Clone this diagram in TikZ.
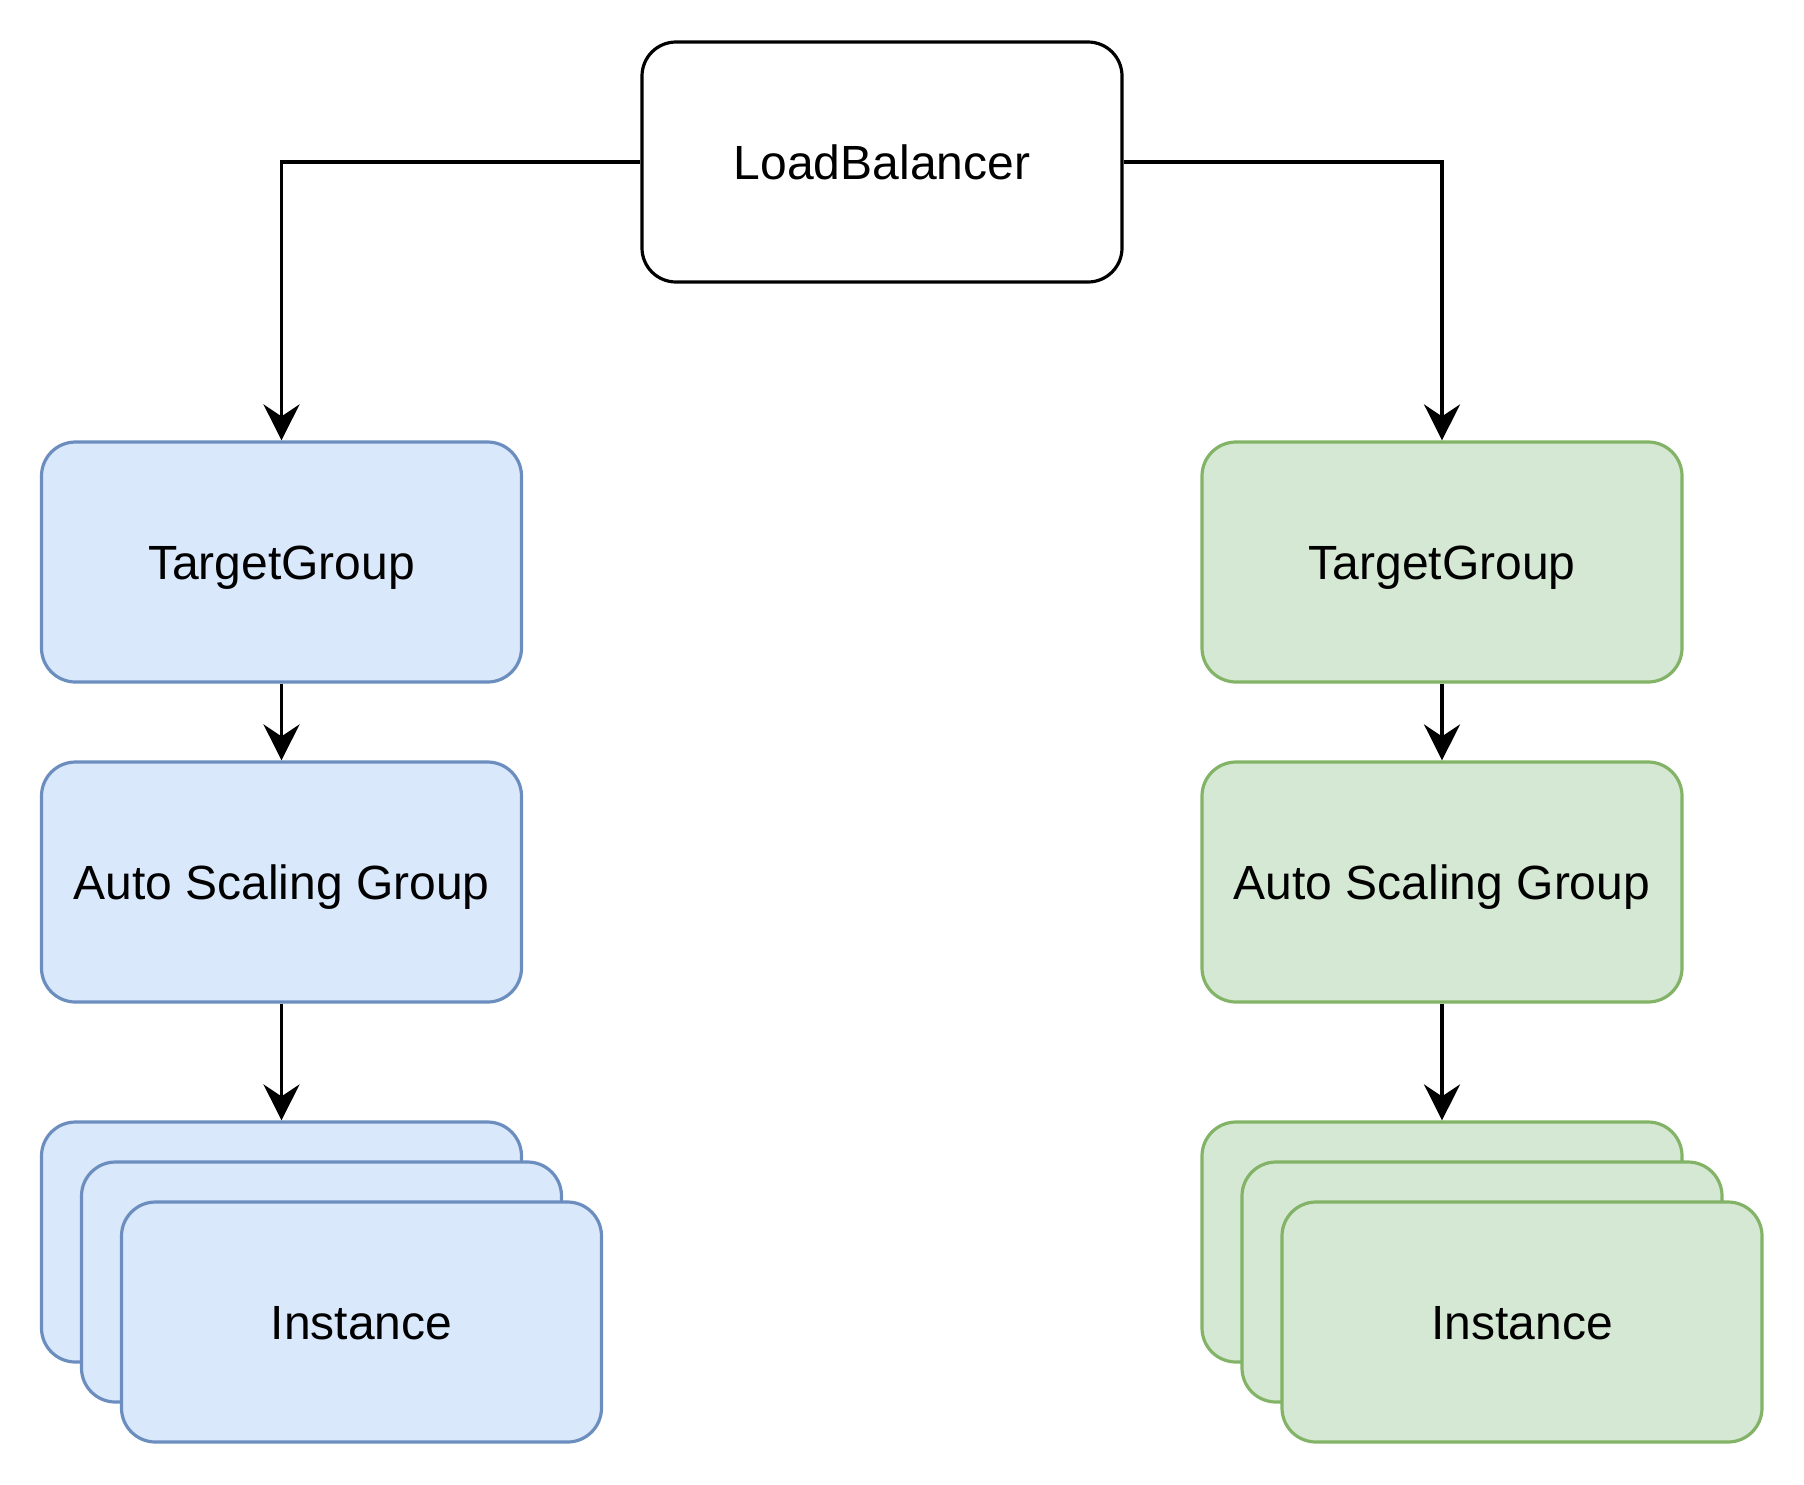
\documentclass[tikz,border=0pt]{standalone}
\usepackage{fontspec}
\setmainfont{Liberation Sans}
\usetikzlibrary{arrows.meta}
\definecolor{bluefill}{HTML}{DAE8FC}
\definecolor{blueline}{HTML}{6C8EBF}
\definecolor{greenfill}{HTML}{D5E8D4}
\definecolor{greenline}{HTML}{82B366}
\begin{document}
\begin{tikzpicture}[x=0.5pt,y=-0.5pt,
  every node/.style={draw,rounded corners=17pt,minimum width=240pt,minimum height=120pt,
    inner sep=0pt,line width=1.6pt,text height=17.2pt,text depth=0pt,
    font=\fontsize{24}{29}\selectfont},
  bluebox/.style={fill=bluefill,draw=blueline},
  greenbox/.style={fill=greenfill,draw=greenline},
  link/.style={-{Stealth[length=18pt,width=18pt,inset=6pt]},line width=1.6pt}
  ]
    \useasboundingbox (0,0) rectangle (1804,1484);

    \node (lb) at (882,162) {LoadBalancer};

    % left side
    \node[bluebox] (tgl) at (281.5,562) {TargetGroup};
    \node[bluebox] (asgl) at (281.5,882) {Auto Scaling Group};
    \node[bluebox] (instl1) at (281.5,1242) {};
    \node[bluebox] (instl2) at (321.5,1282) {};
    \node[bluebox] (instl3) at (361.5,1322) {Instance};

    % right side
    \node[greenbox] (tgr) at (1442,562) {TargetGroup};
    \node[greenbox] (asgr) at (1442,882) {Auto Scaling Group};
    \node[greenbox] (instr1) at (1442,1242) {};
    \node[greenbox] (instr2) at (1482,1282) {};
    \node[greenbox] (instr3) at (1522,1322) {Instance};

    \draw[link] (lb) -| (tgl);
    \draw[link] (lb) -| (tgr);
    \draw[link] (tgl) -- (asgl);
    \draw[link] (asgl) -- (instl1);
    \draw[link] (tgr) -- (asgr);
    \draw[link] (asgr) -- (instr1);
\end{tikzpicture}
\end{document}
